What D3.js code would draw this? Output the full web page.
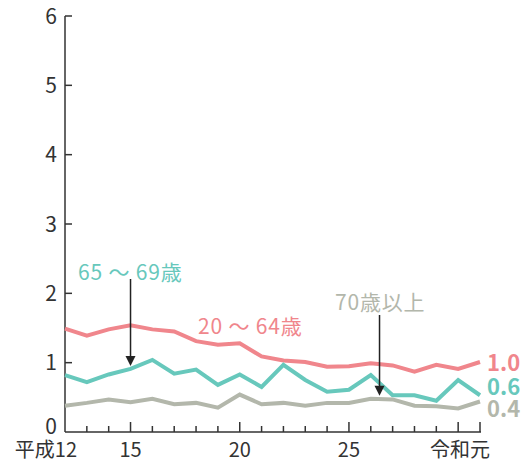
<!DOCTYPE html>
<html lang="ja">
<head>
<meta charset="UTF-8" />
<script src="https://d3js.org/d3.v7.min.js"></script>
<style>
  body { margin: 0; background: #fff; font-family: "Noto Sans CJK JP", "Noto Sans", sans-serif; }
  svg { display: block; }
</style>
</head>
<body>
<svg width="523" height="464"></svg>
<script>
  // 平成12 (2000) .. 令和元 (2019)
  const years = d3.range(2000, 2020);
  const pink = [1.49, 1.39, 1.48, 1.54, 1.48, 1.45, 1.31, 1.26, 1.28, 1.09, 1.03, 1.01, 0.94, 0.95, 0.99, 0.96, 0.87, 0.97, 0.91, 1.01];
  const teal = [0.82, 0.72, 0.83, 0.91, 1.04, 0.84, 0.90, 0.68, 0.83, 0.65, 0.97, 0.75, 0.58, 0.61, 0.82, 0.53, 0.53, 0.45, 0.75, 0.53];
  const gray = [0.38, 0.42, 0.47, 0.43, 0.48, 0.40, 0.42, 0.35, 0.54, 0.40, 0.42, 0.38, 0.42, 0.42, 0.48, 0.47, 0.38, 0.37, 0.34, 0.44];
  const yTicks = [0, 1, 2, 3, 4, 5, 6];
  const xLabels = [[2000, "平成12"], [2003, "15"], [2008, "20"], [2013, "25"], [2019, "令和元"]];
  const majorYears = [2003, 2008, 2013, 2018, 2019];

  const series = [
    { name: "20 ～ 64歳", values: pink, color: "#f0868c", end: "1.0", lx: 198, ly: 326, ey: 363 },
    { name: "65 ～ 69歳", values: teal, color: "#67c8bc", end: "0.6", lx: 78, ly: 272, ey: 387 },
    { name: "70歳以上", values: gray, color: "#b3b7ab", end: "0.4", lx: 335, ly: 302, ey: 409 }
  ];

  const svg = d3.select("svg");
  const x = d3.scaleLinear().domain([2000, 2019]).range([65, 480]);
  const y = d3.scaleLinear().domain([0, 6]).range([432, 16]);
  const axisColor = "#333";

  // y axis
  svg.append("line")
    .attr("x1", x(2000)).attr("x2", x(2000))
    .attr("y1", y(6)).attr("y2", y(0))
    .attr("stroke", axisColor).attr("stroke-width", 1.5);
  svg.append("g").selectAll("line").data(yTicks.slice(1)).join("line")
    .attr("x1", x(2000)).attr("x2", x(2000) + 7)
    .attr("y1", d => y(d)).attr("y2", d => y(d))
    .attr("stroke", axisColor).attr("stroke-width", 1.5);
  svg.append("g").selectAll("text").data(yTicks).join("text")
    .attr("x", 57).attr("y", d => d === 0 ? y(d) - 6 : y(d))
    .attr("dy", "0.36em")
    .attr("text-anchor", "end")
    .attr("font-size", 21)
    .attr("fill", axisColor)
    .text(d => d);

  // x axis
  svg.append("line")
    .attr("x1", x(2000)).attr("x2", x(2019) + 1)
    .attr("y1", y(0)).attr("y2", y(0))
    .attr("stroke", axisColor).attr("stroke-width", 1.5);
  svg.append("g").selectAll("line").data(years.slice(1)).join("line")
    .attr("x1", d => x(d)).attr("x2", d => x(d))
    .attr("y1", y(0)).attr("y2", d => y(0) - (majorYears.includes(d) ? 10 : 6))
    .attr("stroke", axisColor).attr("stroke-width", 1.5);
  svg.append("g").selectAll("text").data(xLabels).join("text")
    .attr("x", d => d[0] === 2000 ? x(d[0]) + 12 : (d[0] === 2019 ? x(d[0]) + 10 : x(d[0])))
    .attr("y", 450)
    .attr("dy", "0.36em")
    .attr("text-anchor", d => d[0] === 2000 || d[0] === 2019 ? "end" : "middle")
    .attr("font-size", 20)
    .attr("fill", axisColor)
    .text(d => d[1]);

  // lines
  const line = d3.line().x((d, i) => x(years[i])).y(d => y(d));
  svg.append("g").selectAll("path").data(series).join("path")
    .attr("d", d => line(d.values))
    .attr("fill", "none")
    .attr("stroke", d => d.color)
    .attr("stroke-width", 4)
    .attr("stroke-linejoin", "miter");

  // series labels
  svg.append("g").selectAll("text").data(series).join("text")
    .attr("x", d => d.lx).attr("y", d => d.ly)
    .attr("dy", "0.36em")
    .attr("font-size", 21)
    .attr("letter-spacing", 0.8)
    .attr("fill", d => d.color)
    .text(d => d.name);

  // end values
  svg.append("g").selectAll("text").data(series).join("text")
    .attr("x", 487).attr("y", d => d.ey)
    .attr("dy", "0.36em")
    .attr("font-size", 22)
    .attr("font-weight", "bold")
    .attr("fill", d => d.color)
    .text(d => d.end);

  // arrows
  const arrows = [
    { xv: 2003, y0: 279, v: teal[3] },
    { xv: 2014.4, y0: 315, v: 0.48 }
  ];
  arrows.forEach(a => {
    const tip = y(a.v) - 3;
    svg.append("line")
      .attr("x1", x(a.xv)).attr("x2", x(a.xv))
      .attr("y1", a.y0).attr("y2", tip - 8)
      .attr("stroke", "#222").attr("stroke-width", 1.5);
    svg.append("path")
      .attr("d", `M${x(a.xv) - 5},${tip - 10} L${x(a.xv) + 5},${tip - 10} L${x(a.xv)},${tip} Z`)
      .attr("fill", "#222");
  });
</script>
</body>
</html>
